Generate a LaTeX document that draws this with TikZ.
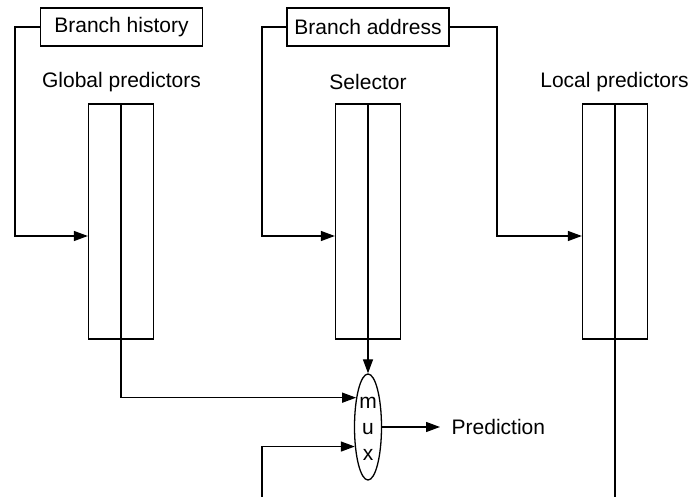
\documentclass[tikz,border=0pt]{standalone}
\usepackage{fontspec}
\setmainfont{Liberation Sans}
\usetikzlibrary{arrows.meta,shapes.geometric}
\begin{document}
\begin{tikzpicture}[x=1pt,y=-1pt,
  line width=1.3pt,
  every node/.style={font=\fontsize{21}{26}\selectfont},
  arr/.style={-{Triangle[length=14pt,width=10pt]}},
  labelbox/.style={draw,rectangle,minimum width=162pt,minimum height=38pt,inner sep=0pt},
  table/.style={draw,rectangle,minimum width=65pt,minimum height=235pt,inner sep=0pt},
  plain/.style={inner sep=0pt}]
\useasboundingbox (0,0) rectangle (689,497);
% boxes
\node[labelbox] (bh) at (121.5,27) {Branch history};
\node[labelbox] (ba) at (368,27) {Branch address};
% labels
\node[plain] (gl) at (121.5,82) {Global predictors};
\node[plain] (sl) at (368,82) {Selector};
\node[plain] (ll) at (614.5,82) {Local predictors};
% tables
\node[table] (g) at (121,221.5) {};
\node[table] (s) at (368,221.5) {};
\node[table] (l) at (615,221.5) {};
% mux
\node[draw,ellipse,minimum width=27pt,minimum height=106pt,inner sep=0pt] (mux) at (368,427) {};
\node[plain,align=center] (muxt) at (368,429) {m\\u\\x};
\node[plain,anchor=west,inner xsep=11pt] (pred) at (440,427) {Prediction};
% coordinates
\coordinate (yA) at (0,236);
\coordinate (c1) at (15,236);
\coordinate (c2) at (262,236);
\coordinate (c3) at (497,236);
\coordinate (cB) at (262,497);
\coordinate (cL) at (615,497);
% connectors
\draw[arr] (bh.west) -| (c1) -- (g.west |- yA);
\draw[arr] (ba.west) -| (c2) -- (s.west |- yA);
\draw[arr] (ba.east) -| (c3) -- (l.west |- yA);
\draw[arr] (s.north) -- (mux.north);
\draw[arr] (g.north) |- (mux.112);
\draw[arr] (cB) |- (mux.236);
\draw (l.north) -- (cL);
\draw[arr] (mux.east) -- (pred.west);
\end{tikzpicture}
\end{document}
